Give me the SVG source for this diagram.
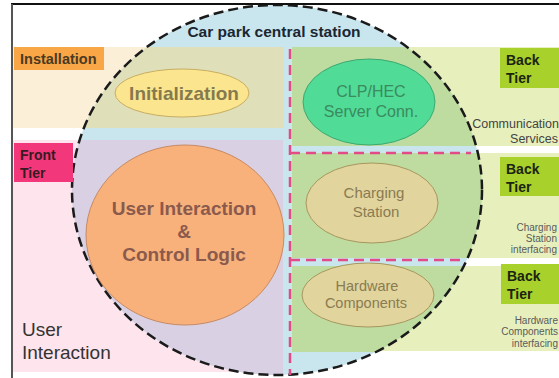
<svg xmlns="http://www.w3.org/2000/svg" width="559" height="378" viewBox="0 0 559 378">
<style>
text{font-family:"Liberation Sans",Arial,sans-serif}
.b{font-weight:bold}
.tier{fill:#a8d12c}
.tiertx{font-size:14px;font-weight:bold;fill:#1b2410}
.small{font-size:10px;fill:#5a5a5a;text-anchor:end}
.pinkd{stroke:#e34b86;stroke-width:2.5;stroke-dasharray:10 6;fill:none}
</style>
<defs>
<clipPath id="circ"><ellipse cx="277" cy="190" rx="205" ry="185"/></clipPath>
</defs>
<rect width="559" height="378" fill="#ffffff"/>
<g id="bands-outer">
<rect x="12" y="47" width="272" height="81" fill="#fcefd8"/>
<rect x="12" y="140" width="271" height="232" fill="#fde4ed"/>
<rect x="292" y="47" width="267" height="99" fill="#e7f0bd"/>
<rect x="292" y="153" width="267" height="105" fill="#e7f0bd"/>
<rect x="292" y="266" width="267" height="85" fill="#e7f0bd"/>
</g>
<g id="central-station">
<ellipse cx="277" cy="190" rx="205" ry="185" fill="#c9e5ed"/>
<g clip-path="url(#circ)">
<rect x="12" y="47" width="272" height="81" fill="#dfe0ba"/>
<rect x="12" y="140" width="271" height="235" fill="#d9d0e4"/>
<rect x="292" y="47" width="267" height="99" fill="#bedc9f"/>
<rect x="292" y="153" width="267" height="105" fill="#bedc9f"/>
<rect x="292" y="266" width="267" height="86" fill="#bedc9f"/>
</g>
<ellipse cx="277" cy="190" rx="205" ry="185" fill="none" stroke="#1a1a1a" stroke-width="2.5" stroke-dasharray="10 5"/>
<text x="274" y="37" class="b" font-size="15.5" fill="#1a2733" text-anchor="middle">Car park central station</text>
</g>
<g id="connectors">
<path class="pinkd" d="M290 49 V375"/>
<path class="pinkd" d="M290 153 H471"/>
<path class="pinkd" d="M290 260 H466"/>
</g>
<line x1="11" y1="4" x2="559" y2="4" stroke="#111" stroke-width="2"/>
<line x1="12" y1="4" x2="12" y2="378" stroke="#555" stroke-width="2"/>
<g id="installation-label">
<rect x="14" y="47" width="90" height="23" fill="#f9a646"/>
<text x="20" y="64" class="b" font-size="14.5" fill="#4a3a22">Installation</text>
</g>
<g id="front-tier-label">
<rect x="14" y="143" width="59" height="39" fill="#f2387b"/>
<text x="20" y="160" class="b" font-size="14" fill="#3a1a22">Front</text>
<text x="20" y="178" class="b" font-size="14" fill="#3a1a22">Tier</text>
</g>
<g id="user-interaction-label">
<text x="22" y="336" font-size="19" fill="#333">User</text>
<text x="22" y="359" font-size="19" fill="#333">Interaction</text>
</g>
<g id="back-tier-1">
<rect x="500" y="48" width="59" height="40" class="tier"/>
<text x="506" y="65" class="tiertx">Back</text>
<text x="506" y="83" class="tiertx">Tier</text>
<text x="559" y="128" font-size="12.5" fill="#444" text-anchor="end">Communication</text>
<text x="558" y="143" font-size="12.5" fill="#444" text-anchor="end">Services</text>
</g>
<g id="back-tier-2">
<rect x="500" y="157" width="59" height="39" class="tier"/>
<text x="506" y="174" class="tiertx">Back</text>
<text x="506" y="192" class="tiertx">Tier</text>
<text x="557" y="231" class="small">Charging</text>
<text x="557" y="242" class="small">Station</text>
<text x="557" y="253" class="small">interfacing</text>
</g>
<g id="back-tier-3">
<rect x="501" y="264" width="58" height="40" class="tier"/>
<text x="507" y="281" class="tiertx">Back</text>
<text x="507" y="299" class="tiertx">Tier</text>
<text x="558" y="324" class="small">Hardware</text>
<text x="558" y="335" class="small">Components</text>
<text x="558" y="347" class="small">interfacing</text>
</g>
<g id="initialization">
<ellipse cx="182" cy="93" rx="67" ry="24" fill="#fbe68f" stroke="#c8ad62" stroke-width="1"/>
<text x="184" y="100" class="b" font-size="19" fill="#857a4e" text-anchor="middle">Initialization</text>
</g>
<g id="clp-hec">
<ellipse cx="369" cy="102" rx="66" ry="43" fill="#50db97" stroke="#3ea872" stroke-width="1"/>
<text x="371" y="97" font-size="16" fill="#3b8a5e" text-anchor="middle">CLP/HEC</text>
<text x="371" y="117" font-size="16" fill="#3b8a5e" text-anchor="middle">Server Conn.</text>
</g>
<g id="charging-station">
<ellipse cx="372" cy="203" rx="66" ry="40" fill="#e1d49d" stroke="#a8965f" stroke-width="1"/>
<text x="374" y="198" font-size="15" fill="#8a7b52" text-anchor="middle">Charging</text>
<text x="376" y="217" font-size="15" fill="#8a7b52" text-anchor="middle">Station</text>
</g>
<g id="hardware-components">
<ellipse cx="368" cy="295" rx="66" ry="32" fill="#e1d49d" stroke="#a8965f" stroke-width="1"/>
<text x="367" y="291" font-size="14.5" fill="#8a7b52" text-anchor="middle">Hardware</text>
<text x="366" y="308" font-size="14.5" fill="#8a7b52" text-anchor="middle">Components</text>
</g>
<g id="user-interaction-control">
<ellipse cx="185" cy="235" rx="99" ry="90" fill="#f9b17b" stroke="#c78a62" stroke-width="1"/>
<text x="184" y="215" class="b" font-size="19" fill="#8a5a4c" text-anchor="middle">User Interaction</text>
<text x="184" y="238" class="b" font-size="19" fill="#8a5a4c" text-anchor="middle">&amp;</text>
<text x="184" y="261" class="b" font-size="19" fill="#8a5a4c" text-anchor="middle">Control Logic</text>
</g>
</svg>
